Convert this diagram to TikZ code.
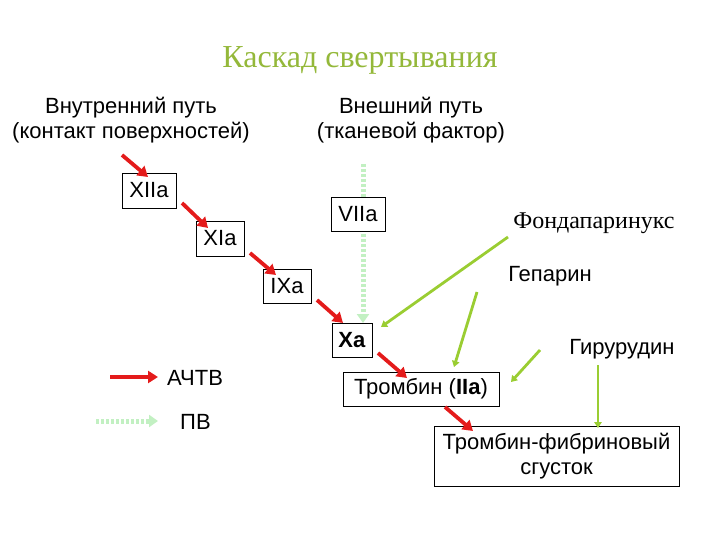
\documentclass[tikz,border=0pt]{standalone}
\usepackage{fontspec}
\setmainfont{Liberation Sans}
\newfontfamily\serifr{Liberation Serif}
\usetikzlibrary{arrows.meta}
\definecolor{titlegreen}{HTML}{94B83A}
\definecolor{inhib}{HTML}{9ACD32}
\definecolor{pvgreen}{HTML}{C2F0C2}
\definecolor{actv}{HTML}{E41B1B}
\tikzset{
  fbox/.style={draw=black, line width=0.8pt, fill=white, inner sep=0pt, font=\fontsize{22}{25}\selectfont},
  lbl/.style={inner sep=0pt, font=\fontsize{22}{25}\selectfont, align=center},
  redarr/.style={draw=actv, line width=3.8pt, -{Triangle[length=10pt,width=12pt]}},
  pvarr/.style={draw=pvgreen, line width=5pt, dash pattern=on 3pt off 2pt, -{Triangle[length=9pt,width=12pt]}},
  inharr/.style={draw=inhib, line width=2.8pt, -{Triangle[length=6pt,width=7.5pt]}}
}
\begin{document}
\begin{tikzpicture}[x=1pt,y=-1pt]
\useasboundingbox (0,0) rectangle (720,540);
% title
\node[inner sep=0pt, text=titlegreen, font=\serifr\fontsize{32}{36}\selectfont] (title) at (360,60) {Каскад свертывания};
% headers
\node[lbl] (intr) at (131,120) {Внутренний путь\\(контакт поверхностей)};
\node[lbl] (extr) at (411,120) {Внешний путь\\(тканевой фактор)};
% PV line behind VIIa
\coordinate (pvstart) at (363,164);
\coordinate (xatop) at (363,323);
\draw[pvarr] (pvstart) -- (xatop);
% boxes
\node[fbox, minimum width=54pt, minimum height=35pt] (xii) at (149,190.5) {XIIa};
\node[fbox, minimum width=48pt, minimum height=35pt] (xi) at (220,238.5) {XIa};
\node[fbox, minimum width=48pt, minimum height=34pt] (ix) at (287,286) {IXa};
\node[fbox, minimum width=40pt, minimum height=34pt] (xa) at (352,340) {\textbf{Xa}};
\node[fbox, minimum width=54pt, minimum height=34pt] (vii) at (358,214) {VIIa};
\node[fbox, minimum width=156pt, minimum height=34pt] (thr) at (421,389) {Тромбин (\textbf{IIa})};
\node[fbox, minimum width=245pt, minimum height=60pt, align=center] (clot) at (556.5,456) {Тромбин-фибриновый\\сгусток};
% inhibitor labels
\node[inner sep=0pt, font=\serifr\fontsize{24}{28}\selectfont] (fonda) at (594,223) {Фондапаринукс};
\node[lbl] (hep) at (550,276) {Гепарин};
\node[lbl] (hir) at (622,349) {Гирурудин};
% red cascade arrows
\coordinate (s0) at (122,155);
\coordinate (t0) at (148,177);
\draw[redarr] (s0) -- (t0);
\coordinate (s1) at (182,203);
\coordinate (t1) at (208,228);
\draw[redarr] (s1) -- (t1);
\coordinate (s2) at (250,253);
\coordinate (t2) at (276,275);
\draw[redarr] (s2) -- (t2);
\coordinate (s3) at (317,300);
\coordinate (t3) at (343,323);
\draw[redarr] (s3) -- (t3);
\coordinate (s4) at (378,353);
\coordinate (t4) at (407,378);
\draw[redarr] (s4) -- (t4);
\coordinate (s5) at (445,407);
\coordinate (t5) at (473,431);
\draw[redarr] (s5) -- (t5);
% inhibitor arrows
\coordinate (f1) at (508,237);
\coordinate (f2) at (381,327);
\draw[inharr] (f1) -- (f2);
\coordinate (h1) at (477,292);
\coordinate (h2) at (454,367);
\draw[inharr] (h1) -- (h2);
\coordinate (g1) at (540,350);
\coordinate (g2) at (511,382);
\draw[inharr] (g1) -- (g2);
\coordinate (g3) at (598,365);
\coordinate (g4) at (598,428);
\draw[inharr] (g3) -- (g4);
% legend
\coordinate (la1) at (110,377);
\coordinate (la2) at (158,377);
\draw[redarr] (la1) -- (la2);
\node[lbl, anchor=west] (actvl) at (167,378) {АЧТВ};
\coordinate (lp1) at (96,421);
\coordinate (lp2) at (158,421);
\draw[pvarr] (lp1) -- (lp2);
\node[lbl, anchor=west] (pvl) at (180,422) {ПВ};
\end{tikzpicture}
\end{document}
